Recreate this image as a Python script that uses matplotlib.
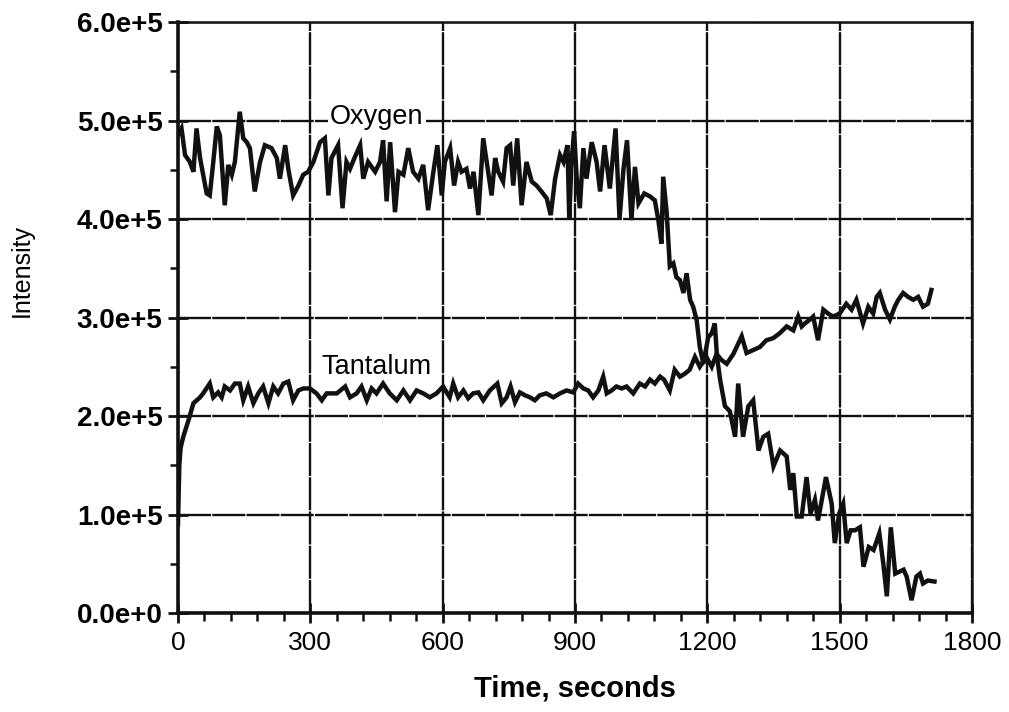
import matplotlib
matplotlib.use("Agg")
import matplotlib.pyplot as plt
from matplotlib.ticker import MultipleLocator, FuncFormatter

# Oxygen signal: time (s) and intensity (units of 1e5 counts)
oxygen_t = [0, 8, 16, 27, 35, 42, 50, 57, 65, 72, 80, 88, 95, 106, 114, 122, 129,
            140, 148, 156, 163, 174, 186, 197, 212, 224, 231, 243, 250, 261, 273,
            284, 295, 307, 322, 333, 341, 348, 363, 373, 382, 390, 401, 413, 420,
            431, 447, 458, 465, 473, 481, 492, 500, 511, 522, 533, 545, 556, 567,
            579, 588, 598, 605, 617, 626, 635, 643, 654, 662, 670, 681, 692, 704,
            711, 719, 726, 737, 745, 753, 760, 769, 779, 790, 802, 813, 824, 836,
            845, 855, 866, 874, 883, 887, 892, 898, 904, 911, 919, 926, 938, 949,
            957, 967, 979, 992, 1001, 1010, 1018, 1028, 1036, 1044, 1057, 1070,
            1081, 1089, 1096, 1100, 1108, 1115, 1123, 1130, 1138, 1146, 1153, 1161,
            1168, 1176, 1183, 1191, 1202, 1210, 1217, 1222, 1229, 1240, 1251, 1263,
            1270, 1281, 1293, 1304, 1316, 1327, 1338, 1350, 1365, 1380, 1388, 1395,
            1403, 1414, 1425, 1434, 1444, 1451, 1469, 1482, 1489, 1499, 1508, 1516,
            1525, 1535, 1546, 1554, 1566, 1577, 1590, 1599, 1607, 1616, 1626, 1645,
            1652, 1663, 1674, 1682, 1689, 1700, 1715]
oxygen_v = [4.85, 4.92, 4.65, 4.58, 4.48, 4.92, 4.62, 4.45, 4.26, 4.24, 4.58, 4.94,
            4.85, 4.14, 4.55, 4.45, 4.58, 5.09, 4.82, 4.78, 4.72, 4.28, 4.58, 4.75,
            4.72, 4.62, 4.41, 4.75, 4.51, 4.24, 4.34, 4.45, 4.48, 4.58, 4.78, 4.82,
            4.24, 4.62, 4.75, 4.11, 4.58, 4.51, 4.63, 4.75, 4.41, 4.58, 4.48, 4.58,
            4.80, 4.18, 4.78, 4.07, 4.48, 4.45, 4.72, 4.48, 4.41, 4.55, 4.09, 4.48,
            4.75, 4.24, 4.58, 4.72, 4.34, 4.58, 4.48, 4.51, 4.31, 4.48, 4.04, 4.82,
            4.45, 4.24, 4.62, 4.48, 4.38, 4.72, 4.75, 4.34, 4.82, 4.14, 4.58, 4.38,
            4.34, 4.28, 4.21, 4.04, 4.41, 4.65, 4.58, 4.75, 4.00, 4.58, 4.89, 4.41,
            4.11, 4.72, 4.41, 4.78, 4.58, 4.28, 4.75, 4.31, 4.92, 4.00, 4.51, 4.80,
            3.99, 4.53, 4.16, 4.26, 4.23, 4.19, 3.99, 3.75, 4.43, 4.06, 3.52, 3.55,
            3.41, 3.38, 3.25, 3.45, 3.18, 3.11, 2.97, 2.70, 2.53, 2.80, 2.84, 2.94,
            2.60, 2.37, 2.10, 2.05, 1.79, 2.33, 1.79, 2.10, 2.16, 1.65, 1.79, 1.82,
            1.49, 1.65, 1.59, 1.25, 1.42, 0.98, 0.98, 1.38, 1.01, 1.15, 0.94, 1.38,
            1.11, 0.71, 1.01, 1.11, 0.71, 0.84, 0.84, 0.87, 0.47, 0.67, 0.64, 0.81,
            0.50, 0.17, 0.87, 0.40, 0.44, 0.37, 0.13, 0.37, 0.40, 0.30, 0.33, 0.32]

# Tantalum signal: time (s) and intensity (units of 1e5 counts)
tantalum_t = [0, 3, 6, 12, 24, 35, 50, 57, 72, 80, 91, 99, 106, 118, 129, 140, 148,
              159, 171, 182, 193, 205, 216, 227, 239, 250, 261, 273, 284, 299, 314,
              326, 337, 360, 379, 390, 405, 416, 428, 439, 450, 465, 480, 496, 511,
              526, 541, 556, 571, 586, 601, 616, 624, 635, 647, 658, 669, 681, 692,
              707, 724, 734, 745, 754, 764, 775, 787, 798, 809, 820, 835, 851, 866,
              881, 896, 907, 919, 930, 941, 953, 964, 972, 983, 994, 1006, 1017,
              1032, 1047, 1059, 1070, 1081, 1093, 1102, 1115, 1126, 1138, 1149,
              1160, 1172, 1183, 1198, 1210, 1221, 1232, 1244, 1259, 1278, 1289,
              1304, 1319, 1334, 1349, 1364, 1380, 1395, 1406, 1414, 1421, 1433,
              1440, 1451, 1463, 1474, 1485, 1500, 1515, 1527, 1538, 1553, 1565,
              1576, 1584, 1591, 1603, 1614, 1625, 1633, 1644, 1655, 1667, 1678,
              1689, 1700, 1708]
tantalum_v = [0.90, 1.50, 1.68, 1.79, 1.96, 2.13, 2.19, 2.23, 2.33, 2.19, 2.24,
              2.19, 2.30, 2.26, 2.33, 2.33, 2.16, 2.30, 2.13, 2.23, 2.30, 2.13,
              2.30, 2.23, 2.33, 2.35, 2.16, 2.26, 2.28, 2.28, 2.23, 2.16, 2.23,
              2.23, 2.30, 2.19, 2.23, 2.30, 2.16, 2.28, 2.23, 2.33, 2.23, 2.16,
              2.26, 2.16, 2.26, 2.23, 2.19, 2.23, 2.30, 2.19, 2.33, 2.19, 2.26,
              2.18, 2.23, 2.24, 2.16, 2.26, 2.33, 2.13, 2.19, 2.30, 2.14, 2.24,
              2.21, 2.19, 2.16, 2.21, 2.23, 2.19, 2.23, 2.26, 2.24, 2.33, 2.28,
              2.26, 2.19, 2.26, 2.40, 2.23, 2.26, 2.30, 2.28, 2.30, 2.23, 2.33,
              2.30, 2.37, 2.33, 2.40, 2.37, 2.26, 2.47, 2.40, 2.43, 2.47, 2.60,
              2.50, 2.60, 2.50, 2.63, 2.57, 2.53, 2.63, 2.81, 2.64, 2.67, 2.70,
              2.77, 2.79, 2.84, 2.91, 2.87, 3.01, 2.91, 2.94, 2.98, 3.01, 2.77,
              3.08, 3.04, 3.01, 3.04, 3.14, 3.08, 3.18, 2.94, 3.11, 3.04, 3.21,
              3.25, 3.08, 2.98, 3.11, 3.18, 3.25, 3.21, 3.18, 3.21, 3.11, 3.14,
              3.28]

SCALE = 1e5
x_ticks = [0, 300, 600, 900, 1200, 1500, 1800]
y_ticks = [0, 1e5, 2e5, 3e5, 4e5, 5e5, 6e5]

fig = plt.figure(figsize=(10.09, 7.12), dpi=100)
ax = fig.add_axes([0.1764, 0.139, 0.7869, 0.830])

ink = "#111111"
ax.plot(oxygen_t, [v * SCALE for v in oxygen_v], color=ink, lw=3.2,
        solid_joinstyle="miter", zorder=3)
ax.plot(tantalum_t, [v * SCALE for v in tantalum_v], color=ink, lw=3.2,
        solid_joinstyle="miter", zorder=3)

ax.set_xlim(0, 1800)
ax.set_ylim(0, 6e5)
ax.set_xticks(x_ticks)
ax.set_yticks(y_ticks)
ax.xaxis.set_minor_locator(MultipleLocator(60))
ax.yaxis.set_minor_locator(MultipleLocator(0.5e5))
ax.yaxis.set_major_formatter(FuncFormatter(
    lambda v, p: "0.0e+0" if v == 0 else f"{v / 1e5:.1f}e+5"))

ax.grid(True, which="major", color=ink, lw=1.7, linestyle=(0, (14, 0.5)))
ax.set_axisbelow(True)

for side in ("left", "bottom"):
    ax.spines[side].set_linewidth(2.6)
    ax.spines[side].set_color(ink)
for side in ("top", "right"):
    ax.spines[side].set_linewidth(1.8)
    ax.spines[side].set_color(ink)

ax.tick_params(which="major", direction="inout", length=14, width=2.0, color=ink,
               top=False, right=False)
ax.tick_params(which="minor", direction="out", length=6, width=1.8, color=ink,
               top=False, right=False)
ax.tick_params(axis="x", which="major", pad=6)
ax.tick_params(axis="y", which="major", pad=4)

for lab in ax.get_yticklabels():
    lab.set_fontfamily("Liberation Sans")
    lab.set_fontweight("bold")
    lab.set_fontsize(20)
for lab in ax.get_xticklabels():
    lab.set_fontfamily("Liberation Sans")
    lab.set_fontsize(19)

ax.set_xlabel("Time, seconds", family="Liberation Sans", fontsize=21,
              fontweight="bold", labelpad=14)
ax.set_ylabel("Intensity", family="Liberation Sans", fontsize=18)
ax.yaxis.set_label_coords(-0.182, 0.58)

ax.text(451, 5.04e5, "Oxygen", family="Liberation Sans", fontsize=19.5,
        ha="center", va="center", zorder=4,
        bbox=dict(facecolor="white", edgecolor="none", pad=1.5))
ax.text(451, 2.50e5, "Tantalum", family="Liberation Sans", fontsize=19.5,
        ha="center", va="center", zorder=4)

fig.savefig("out.png", dpi=100, facecolor="white")
